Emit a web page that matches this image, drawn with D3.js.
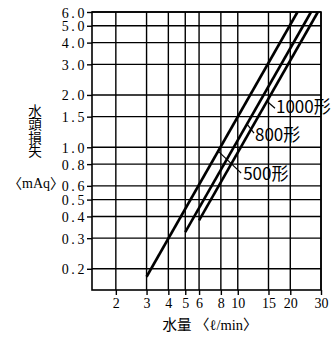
<!DOCTYPE html>
<html lang="ja">
<head>
<meta charset="UTF-8">
<title>水頭損失</title>
<script src="https://d3js.org/d3.v7.min.js"></script>
<style>
    body { margin: 0; background: #fff; }
    svg { display: block; }
    .tick text { font-family: "Liberation Serif", serif; font-size: 14px; fill: #000; }
</style>
</head>
<body>
<div id="chart"></div>
<script>
    // tick values
    const xTicks = [2, 3, 4, 5, 6, 8, 10, 15, 20, 30]
    const yTicks = [0.2, 0.3, 0.4, 0.5, 0.6, 0.8, 1.0, 1.5, 2.0, 3.0, 4.0, 5.0, 6.0]

    // series: [flow l/min, head loss mAq]
    const series = ["500形", "800形", "1000形"]
    const flow500 = [3, 22]
    const loss500 = [0.18, 6.0]
    const flow800 = [5, 26.3]
    const loss800 = [0.325, 6.0]
    const flow1000 = [6, 28.8]
    const loss1000 = [0.38, 6.0]
    // head loss where each label's leader touches its line
    const leaderAt = [0.95, 1.36, 1.84]

    const lines = [
        { name: series[0], q: flow500, h: loss500 },
        { name: series[1], q: flow800, h: loss800 },
        { name: series[2], q: flow1000, h: loss1000 }
    ]

    const width = 332, height = 338
    const svg = d3.select("#chart").append("svg")
        .attr("width", width)
        .attr("height", height)

    const x = d3.scaleLog().domain([1.46, 30]).range([92, 321])
    const y = d3.scaleLog().domain([0.151, 6.0]).range([290, 12])

    // grid
    svg.append("g").selectAll("line").data(yTicks).enter()
        .append("line")
        .attr("x1", x(1.46)).attr("x2", x(30))
        .attr("y1", d => y(d)).attr("y2", d => y(d))
        .attr("stroke", "#000").attr("stroke-width", 1.4)

    svg.append("g").selectAll("line").data(xTicks).enter()
        .append("line")
        .attr("x1", d => x(d)).attr("x2", d => x(d))
        .attr("y1", y(6.0)).attr("y2", y(0.151))
        .attr("stroke", "#000").attr("stroke-width", 1.4)

    // frame
    svg.append("rect")
        .attr("x", x(1.46)).attr("y", y(6.0))
        .attr("width", x(30) - x(1.46))
        .attr("height", y(0.151) - y(6.0))
        .attr("fill", "none")
        .attr("stroke", "#000").attr("stroke-width", 1.6)

    // axes
    const yAxis = svg.append("g")
        .attr("transform", "translate(" + x(1.46) + ",0)")
        .call(d3.axisLeft(y).tickValues(yTicks).tickFormat(d3.format(".1f"))
            .tickSizeInner(5).tickSizeOuter(0).tickPadding(0))
    yAxis.select(".domain").remove()
    yAxis.selectAll(".tick line").attr("stroke", "#000").attr("stroke-width", 1.4)
    yAxis.selectAll(".tick text").style("letter-spacing", "2.6px").attr("dy", "0.36em")

    const xAxis = svg.append("g")
        .attr("transform", "translate(0," + y(0.151) + ")")
        .call(d3.axisBottom(x).tickValues(xTicks).tickFormat(d3.format("d"))
            .tickSizeInner(5).tickSizeOuter(0).tickPadding(3))
    xAxis.select(".domain").remove()
    xAxis.selectAll(".tick line").attr("stroke", "#000").attr("stroke-width", 1.4)

    // head loss lines
    const line = d3.line().x(d => x(d[0])).y(d => y(d[1]))
    svg.append("g").selectAll("path").data(lines).enter()
        .append("path")
        .attr("d", d => line(d3.zip(d.q, d.h)))
        .attr("fill", "none")
        .attr("stroke", "#000")
        .attr("stroke-width", 2.6)

    // labels with leaders
    const leaderOffset = [[23, 22], [7, 9], [8, 7]]
    const textOffset = [[2, 7], [1, 8], [1, 5]]
    lines.forEach((d, i) => {
        const h = leaderAt[i]
        const k = Math.log(h / d.h[0]) / Math.log(d.h[1] / d.h[0])
        const q = Math.exp(Math.log(d.q[0]) + k * (Math.log(d.q[1]) - Math.log(d.q[0])))
        const px = x(q), py = y(h)
        const ex = px + leaderOffset[i][0], ey = py + leaderOffset[i][1]
        svg.append("line")
            .attr("x1", px).attr("y1", py)
            .attr("x2", ex).attr("y2", ey)
            .attr("stroke", "#000").attr("stroke-width", 1.2)
        svg.append("text")
            .attr("x", ex + textOffset[i][0])
            .attr("y", ey + textOffset[i][1])
            .style("font-family", "'Noto Sans CJK JP', sans-serif")
            .style("font-size", "17px")
            .style("fill", "#000")
            .text(d.name)
    })

    // axis titles
    svg.append("text")
        .attr("x", 35).attr("y", 104)
        .style("writing-mode", "vertical-rl")
        .style("font-family", "'Noto Sans CJK JP', serif")
        .style("font-size", "13.5px")
        .text("水頭損失")
    svg.append("text")
        .attr("x", 36).attr("y", 188)
        .attr("text-anchor", "middle")
        .style("font-family", "'Liberation Serif', 'Noto Sans CJK JP', serif")
        .style("font-size", "14px")
        .text("〈mAq〉")

    svg.append("text")
        .attr("x", 210).attr("y", 330)
        .attr("text-anchor", "middle")
        .style("font-family", "'Liberation Serif', 'Noto Sans CJK JP', serif")
        .style("font-size", "14.5px")
        .text("水量 〈ℓ/min〉")
</script>
</body>
</html>
